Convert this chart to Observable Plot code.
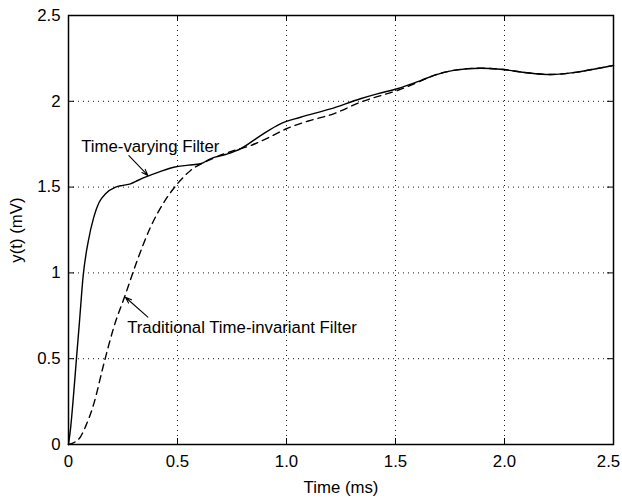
<!DOCTYPE html>
<html><head><meta charset="utf-8">
<script src="https://cdn.jsdelivr.net/npm/d3@7"></script>
<script src="https://cdn.jsdelivr.net/npm/@observablehq/plot@0.6"></script>
<style>body{margin:0;background:#fff} svg{display:block}</style>
</head><body><div id="chart"></div>
<script>
const xTicks = [0, 0.5, 1, 1.5, 2, 2.5];
const xTickLabels = ["0", "0.5", "1.0", "1.5", "2.0", "2.5"];
const yTicks = [0, 0.5, 1, 1.5, 2, 2.5];
const yTickLabels = ["0", "0.5", "1", "1.5", "2", "2.5"];

// Time-varying filter (solid)
const tvTime = [0, 0.01, 0.02, 0.037, 0.05, 0.067, 0.09, 0.116, 0.14, 0.17, 0.216, 0.25, 0.284, 0.32, 0.361, 0.42, 0.483, 0.55, 0.606, 0.651, 0.72, 0.789, 0.881, 0.972, 1.064, 1.202, 1.339, 1.42, 1.508, 1.615, 1.674, 1.766, 1.89, 1.995, 2.104, 2.211, 2.333, 2.42, 2.5];
const tvY    = [0, 0.1, 0.24, 0.509, 0.71, 0.98, 1.18, 1.325, 1.41, 1.461, 1.5, 1.51, 1.519, 1.54, 1.562, 1.59, 1.616, 1.628, 1.636, 1.665, 1.69, 1.723, 1.8, 1.869, 1.907, 1.956, 2.015, 2.045, 2.073, 2.121, 2.15, 2.18, 2.193, 2.185, 2.166, 2.156, 2.17, 2.19, 2.209];

// Traditional time-invariant filter (dashed)
const tiTime = [0, 0.03, 0.055, 0.08, 0.116, 0.162, 0.208, 0.26, 0.315, 0.376, 0.453, 0.5, 0.56, 0.65, 0.75, 0.835, 0.92, 1.0, 1.1, 1.216, 1.339, 1.45, 1.508, 1.615, 1.674, 1.766, 1.89, 1.995, 2.104, 2.211, 2.333, 2.42, 2.5];
const tiY    = [0, 0.015, 0.045, 0.11, 0.237, 0.47, 0.684, 0.87, 1.072, 1.266, 1.441, 1.52, 1.597, 1.66, 1.71, 1.742, 1.79, 1.84, 1.885, 1.927, 1.995, 2.04, 2.063, 2.118, 2.15, 2.18, 2.193, 2.185, 2.166, 2.156, 2.17, 2.19, 2.209];

const noteText = ["Time-varying Filter", "Traditional Time-invariant Filter"];
const noteX = [0.058, 0.269];
const noteY = [1.737, 0.684];
const arrowX1 = [0.277, 0.364];
const arrowY1 = [1.684, 0.742];
const arrowX2 = [0.364, 0.261];
const arrowY2 = [1.568, 0.858];

const W = 622, H = 498, mL = 68, mR = 9, mT = 15, mB = 54;
const pw = W - mL - mR, ph = H - mT - mB;
const tl = 6;
const fs = 16.8;

const tv = tvTime.map((t, i) => ({t, y: tvY[i]}));
const ti = tiTime.map((t, i) => ({t, y: tiY[i]}));
const notes = noteText.map((s, i) => ({s, x: noteX[i], y: noteY[i]}));
const arrows = arrowX1.map((x1, i) => ({x1, y1: arrowY1[i], x2: arrowX2[i], y2: arrowY2[i]}));
const fmtX = d => xTickLabels[xTicks.indexOf(d)];
const fmtY = d => yTickLabels[yTicks.indexOf(d)];

const chart = Plot.plot({
  width: W, height: H,
  marginLeft: mL, marginRight: mR, marginTop: mT, marginBottom: mB,
  style: {fontFamily: "'Liberation Sans', Arial, sans-serif", fontSize: fs + "px", background: "#fff", color: "#000"},
  x: {domain: [0, 2.5]},
  y: {domain: [0, 2.5]},
  marks: [
    Plot.gridX(xTicks.slice(1, -1), {stroke: "#000", strokeOpacity: 0.9, strokeDasharray: "1,4", strokeWidth: 1}),
    Plot.gridY(yTicks.slice(1, -1), {stroke: "#000", strokeOpacity: 0.9, strokeDasharray: "1,4", strokeWidth: 1}),
    Plot.line(ti, {x: "t", y: "y", stroke: "#000", strokeWidth: 1.4, strokeDasharray: "7,5", curve: "monotone-x"}),
    Plot.line(tv, {x: "t", y: "y", stroke: "#000", strokeWidth: 1.4, curve: "monotone-x"}),
    Plot.frame({stroke: "#000", strokeWidth: 1.5}),
    Plot.tickX(xTicks, {x: d => d, insetTop: ph - tl, stroke: "#000"}),
    Plot.tickX(xTicks, {x: d => d, insetBottom: ph - tl, stroke: "#000"}),
    Plot.tickY(yTicks, {y: d => d, insetRight: pw - tl, stroke: "#000"}),
    Plot.tickY(yTicks, {y: d => d, insetLeft: pw - tl, stroke: "#000"}),
    Plot.axisX(xTicks.slice(0, -1), {tickSize: 0, tickPadding: 11, tickFormat: fmtX, fontSize: fs,
      label: "Time (ms)", labelAnchor: "center", labelOffset: 48, labelArrow: "none"}),
    Plot.axisX(xTicks.slice(-1), {tickSize: 0, tickPadding: 11, tickFormat: fmtX, fontSize: fs, dx: -5, label: null}),
    Plot.axisY(yTicks, {tickSize: 0, tickPadding: 8, tickFormat: fmtY, fontSize: fs,
      label: "y(t) (mV)", labelAnchor: "center", labelOffset: 58, labelArrow: "none"}),
    Plot.text(notes, {x: "x", y: "y", text: "s", textAnchor: "start", fontSize: fs, fill: "#000"}),
    Plot.arrow(arrows, {x1: "x1", y1: "y1", x2: "x2", y2: "y2", stroke: "#000", strokeWidth: 1.1, headLength: 9, headAngle: 40})
  ]
});
document.getElementById("chart").appendChild(chart);
</script></body></html>
